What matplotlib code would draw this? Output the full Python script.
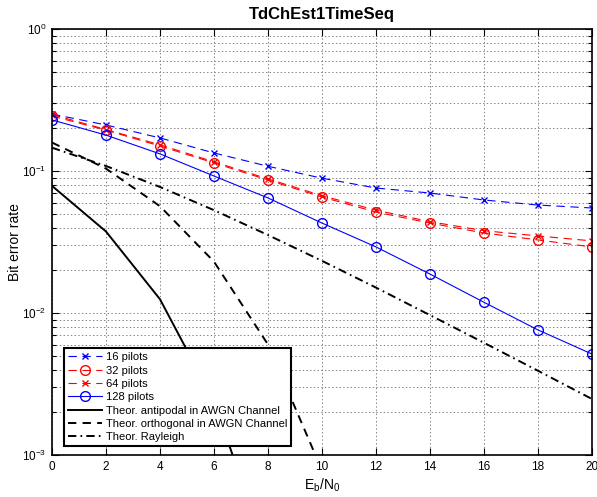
import numpy as np
import matplotlib
matplotlib.use('Agg')
import matplotlib.pyplot as plt
from matplotlib.ticker import LogLocator, NullFormatter, FixedLocator

plt.rcParams['font.family'] = ['Liberation Sans', 'DejaVu Sans']
plt.rcParams['mathtext.fontset'] = 'custom'
plt.rcParams['mathtext.rm'] = 'Liberation Sans'
plt.rcParams['mathtext.it'] = 'Liberation Sans'
plt.rcParams['lines.scale_dashes'] = False

# Eb/N0 grid in dB
ebn0 = [0, 2, 4, 6, 8, 10, 12, 14, 16, 18, 20]

# simulated BER for the time-domain channel estimator
ber_16 = [0.252, 0.211, 0.171, 0.134, 0.108, 0.089, 0.0759, 0.070, 0.0625, 0.0576, 0.0549]
ber_32 = [0.244, 0.194, 0.150, 0.114, 0.0864, 0.0656, 0.0514, 0.043, 0.0366, 0.0327, 0.0292]
ber_64 = [0.250, 0.196, 0.153, 0.116, 0.088, 0.067, 0.053, 0.044, 0.038, 0.0349, 0.0322]
ber_128 = [0.229, 0.179, 0.132, 0.0922, 0.0646, 0.043, 0.0292, 0.0188, 0.0119, 0.0076, 0.00514]

# reference curves
ber_antipodal = [0.0786, 0.0375, 0.0125, 0.00239, 1.91e-4, 3.87e-6, 9.0e-9, 1e-12, 1e-16, 1e-20, 1e-25]
ber_orthogonal = [0.1587, 0.104, 0.0565, 0.0230, 0.0060, 7.8e-4, 3.4e-5, 4.0e-7, 1e-9, 1e-12, 1e-16]
ber_rayleigh = [0.146, 0.1085, 0.0772, 0.053, 0.0354, 0.0233, 0.0151, 0.00966, 0.00617, 0.00392, 0.00248]

dash_c = (6, 4)
dash_k = (6, 4.5)
dashdot_k = (6, 3, 1.2, 3)

fig = plt.figure(figsize=(5.97, 4.97), dpi=100)
ax = fig.add_axes([0.0871, 0.0845, 0.9045, 0.8571])

ax.semilogy(ebn0, ber_16, 'b--x', lw=0.8, ms=5, mew=1.0, dashes=dash_c, label='16 pilots')
ax.semilogy(ebn0, ber_32, 'r--o', lw=0.8, ms=7, mew=1.0, mfc='none', dashes=dash_c, label='32 pilots')
ax.semilogy(ebn0, ber_64, 'r--x', lw=0.8, ms=5, mew=1.0, dashes=dash_c, label='64 pilots')
ax.semilogy(ebn0, ber_128, 'b-o', lw=0.8, ms=7, mew=1.0, mfc='none', label='128 pilots')
ax.semilogy(ebn0, ber_antipodal, 'k-', lw=1.4, label='Theor. antipodal in AWGN Channel')
ax.semilogy(ebn0, ber_orthogonal, 'k--', lw=1.4, dashes=dash_k, label='Theor. orthogonal in AWGN Channel')
ax.semilogy(ebn0, ber_rayleigh, 'k-.', lw=1.4, dashes=dashdot_k, label='Theor. Rayleigh')

ax.set_xlim(0, 20)
ax.set_ylim(1e-3, 1)
ax.xaxis.set_major_locator(FixedLocator(range(0, 21, 2)))
ax.yaxis.set_major_locator(LogLocator(base=10, numticks=10))
ax.yaxis.set_minor_locator(LogLocator(base=10, subs=np.arange(2, 10), numticks=10))
ax.yaxis.set_minor_formatter(NullFormatter())

ax.grid(True, which='major', ls=':', color='0.5', lw=0.7)
ax.grid(True, which='minor', axis='y', ls=':', color='0.5', lw=0.7)
ax.tick_params(which='both', direction='in', top=True, right=True, labelsize=8.5, width=0.8)
ax.tick_params(which='major', length=5, pad=4)
ax.tick_params(which='minor', length=3)
for s in ax.spines.values():
    s.set_linewidth(1.2)

ax.set_title('TdChEst1TimeSeq', fontsize=12, fontweight='bold', pad=7)
ax.set_xlabel('E$_\\mathregular{b}$/N$_\\mathregular{0}$', fontsize=10, labelpad=3)
ax.set_ylabel('Bit error rate', fontsize=10)
ax.yaxis.set_label_coords(-0.055, 0.5)

leg = ax.legend(loc='lower left', bbox_to_anchor=(0.022, 0.021), fontsize=8,
                fancybox=False, framealpha=1, edgecolor='k', borderpad=0.35,
                labelspacing=0.3, handlelength=3.1, handletextpad=0.35,
                borderaxespad=0)
leg.get_frame().set_linewidth(1.5)

fig.savefig('out.png', dpi=100)
